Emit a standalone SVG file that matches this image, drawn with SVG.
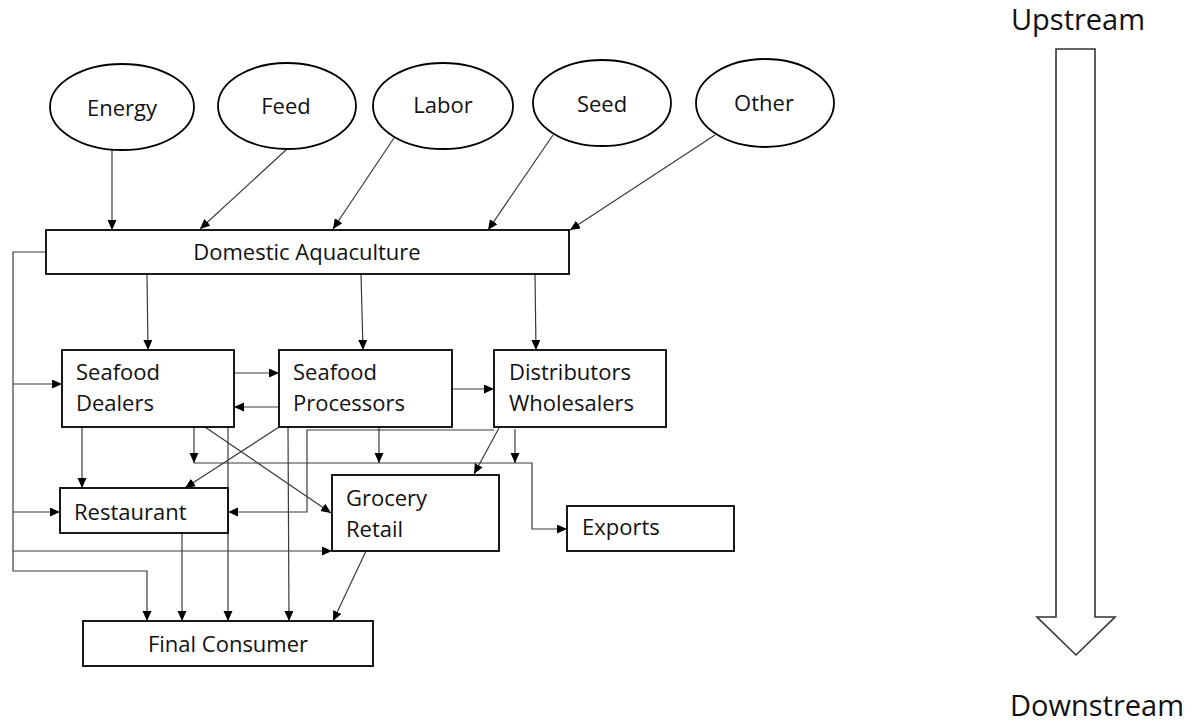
<svg xmlns="http://www.w3.org/2000/svg" width="1194" height="726" viewBox="0 0 1194 726">
<style>
  .node { fill: #fff; stroke: #000; stroke-width: 1.8; }
  .lbl { font-family: "Open Sans", "Noto Sans", sans-serif; font-size: 22px; fill: #111; }
  .mid { text-anchor: middle; }
  .big { font-family: "Open Sans", "Noto Sans", sans-serif; font-size: 29px; fill: #111; }
  .conn { fill: none; stroke: #3a3a3a; stroke-width: 1.2; }
  .arr { marker-end: url(#ah); }
</style>
<defs>
  <marker id="ah" markerUnits="userSpaceOnUse" markerWidth="11" markerHeight="10" refX="10" refY="4.5" orient="auto">
    <path d="M0,0 L10,4.5 L0,9 z" fill="#000"/>
  </marker>
</defs>
<rect width="1194" height="726" fill="#fff"/>

<g id="connectors">
  <line class="conn arr" x1="112" y1="150" x2="112" y2="230"/>
  <line class="conn arr" x1="287" y1="149" x2="200" y2="229"/>
  <line class="conn arr" x1="394" y1="138" x2="333" y2="229"/>
  <line class="conn arr" x1="553" y1="135" x2="488" y2="230"/>
  <line class="conn arr" x1="715" y1="135" x2="570" y2="230"/>

  <line class="conn arr" x1="147" y1="274" x2="148" y2="350"/>
  <line class="conn arr" x1="361" y1="274" x2="363" y2="350"/>
  <line class="conn arr" x1="535" y1="274" x2="536" y2="350"/>

  <path class="conn arr" d="M46,252 H13 V571 H147 V621"/>
  <path class="conn arr" d="M13,384 H62"/>
  <path class="conn arr" d="M13,512 H60"/>
  <path class="conn arr" d="M13,551 H332"/>

  <line class="conn arr" x1="234" y1="373" x2="279" y2="373"/>
  <line class="conn arr" x1="279" y1="407" x2="234" y2="407"/>
  <line class="conn arr" x1="452" y1="389" x2="494" y2="389"/>

  <line class="conn arr" x1="82" y1="427" x2="82" y2="488"/>
  <line class="conn arr" x1="205" y1="427" x2="331" y2="513"/>
  <line class="conn arr" x1="279" y1="427" x2="185" y2="488"/>
  <line class="conn arr" x1="228" y1="427" x2="228" y2="621"/>
  <line class="conn arr" x1="288" y1="427" x2="289" y2="621"/>
  <line class="conn arr" x1="182" y1="533" x2="182" y2="621"/>
  <line class="conn arr" x1="366" y1="551" x2="333" y2="621"/>

  <path class="conn arr" d="M194,463 H532 V529 H567"/>
  <line class="conn arr" x1="194" y1="427" x2="194" y2="463"/>
  <line class="conn arr" x1="379" y1="427" x2="379" y2="463"/>
  <line class="conn arr" x1="515" y1="429" x2="515" y2="463"/>

  <path class="conn arr" d="M494,430 H307 V512 H228"/>
  <line class="conn arr" x1="499" y1="428" x2="474" y2="474"/>
</g>

<g id="energy">
  <ellipse class="node" cx="122" cy="107" rx="72" ry="43"/>
  <text class="lbl mid" x="122" y="116">Energy</text>
</g>
<g id="feed">
  <ellipse class="node" cx="287" cy="106" rx="69" ry="43"/>
  <text class="lbl mid" x="286" y="114">Feed</text>
</g>
<g id="labor">
  <ellipse class="node" cx="443" cy="106" rx="70" ry="43"/>
  <text class="lbl mid" x="443" y="113">Labor</text>
</g>
<g id="seed">
  <ellipse class="node" cx="602" cy="103" rx="69" ry="43"/>
  <text class="lbl mid" x="602" y="112">Seed</text>
</g>
<g id="other">
  <ellipse class="node" cx="765" cy="103" rx="69" ry="44"/>
  <text class="lbl mid" x="764" y="111">Other</text>
</g>

<g id="domestic-aquaculture">
  <rect class="node" x="46" y="230" width="523" height="44"/>
  <text class="lbl mid" x="307" y="260">Domestic Aquaculture</text>
</g>
<g id="seafood-dealers">
  <rect class="node" x="62" y="350" width="172" height="77"/>
  <text class="lbl" x="76" y="380">Seafood</text>
  <text class="lbl" x="76" y="411">Dealers</text>
</g>
<g id="seafood-processors">
  <rect class="node" x="279" y="350" width="173" height="77"/>
  <text class="lbl" x="293" y="380">Seafood</text>
  <text class="lbl" x="293" y="411">Processors</text>
</g>
<g id="distributors-wholesalers">
  <rect class="node" x="494" y="350" width="172" height="77"/>
  <text class="lbl" x="509" y="380">Distributors</text>
  <text class="lbl" x="509" y="411">Wholesalers</text>
</g>
<g id="restaurant">
  <rect class="node" x="60" y="488" width="168" height="45"/>
  <text class="lbl" x="74" y="520">Restaurant</text>
</g>
<g id="grocery-retail">
  <rect class="node" x="332" y="475" width="167" height="76"/>
  <text class="lbl" x="346" y="506">Grocery</text>
  <text class="lbl" x="346" y="537">Retail</text>
</g>
<g id="exports">
  <rect class="node" x="567" y="506" width="167" height="45"/>
  <text class="lbl" x="582" y="535">Exports</text>
</g>
<g id="final-consumer">
  <rect class="node" x="83" y="621" width="290" height="45"/>
  <text class="lbl mid" x="228" y="652">Final Consumer</text>
</g>

<g id="direction">
  <text class="big mid" x="1078" y="30">Upstream</text>
  <polygon points="1056,49 1095,49 1095,617 1115,617 1076,655 1037,617 1056,617" fill="#fff" stroke="#333" stroke-width="1.6"/>
  <text class="big mid" x="1097" y="716">Downstream</text>
</g>
</svg>
